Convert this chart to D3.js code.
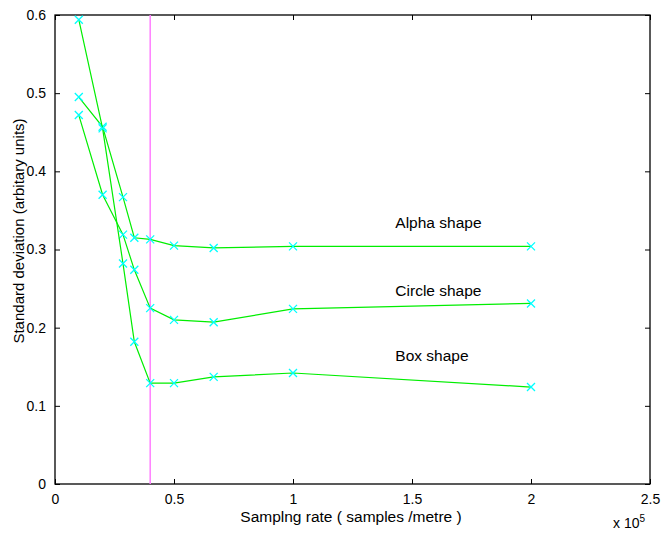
<!DOCTYPE html>
<html><head><meta charset="utf-8">
<script src="https://cdn.jsdelivr.net/npm/d3@7"></script>
<style>body{margin:0;background:#fff}svg{display:block}text{font-family:"Liberation Sans",Arial,sans-serif;fill:#000}</style>
</head><body>
<svg id="c" width="664" height="533"></svg>
<script>
const xVals = [0.1, 0.2, 0.2857, 0.3333, 0.4, 0.5, 0.6667, 1, 2];
const alpha = [0.495, 0.457, 0.367, 0.315, 0.313, 0.305, 0.302, 0.304, 0.304];
const circle = [0.472, 0.370, 0.319, 0.274, 0.225, 0.210, 0.207, 0.224, 0.231];
const box = [0.594, 0.455, 0.282, 0.182, 0.129, 0.129, 0.137, 0.142, 0.124];
const seriesNames = ["Alpha shape", "Circle shape", "Box shape"];
const labelPos = [[1.43, 0.327], [1.43, 0.241], [1.43, 0.157]];
const markerX = 0.4;
const xTicks = [0, 0.5, 1, 1.5, 2, 2.5];
const yTicks = [0, 0.1, 0.2, 0.3, 0.4, 0.5, 0.6];

const svg = d3.select("#c");
const L = 55, R = 650, T = 15, B = 484;
const x = d3.scaleLinear().domain([0, 2.5]).range([L, R]);
const y = d3.scaleLinear().domain([0, 0.6]).range([B, T]);

// axes box
svg.append("rect").attr("x", L).attr("y", T).attr("width", R - L).attr("height", B - T)
  .attr("fill", "none").attr("stroke", "#000").attr("stroke-width", 1.3);

const fmt = d => d === 0 ? "0" : String(d);
const tl = 5;
const gB = svg.append("g").attr("transform", `translate(0,${B})`)
  .call(d3.axisBottom(x).tickValues(xTicks).tickFormat(fmt).tickSizeInner(-tl).tickSizeOuter(0).tickPadding(10));
const gT = svg.append("g").attr("transform", `translate(0,${T})`)
  .call(d3.axisTop(x).tickValues(xTicks).tickFormat("").tickSizeInner(-tl).tickSizeOuter(0));
const gL = svg.append("g").attr("transform", `translate(${L},0)`)
  .call(d3.axisLeft(y).tickValues(yTicks).tickFormat(fmt).tickSizeInner(-tl).tickSizeOuter(0).tickPadding(9));
const gR = svg.append("g").attr("transform", `translate(${R},0)`)
  .call(d3.axisRight(y).tickValues(yTicks).tickFormat("").tickSizeInner(-tl).tickSizeOuter(0));
[gB, gT, gL, gR].forEach(g => {
  g.select(".domain").remove();
  g.selectAll("line").attr("stroke", "#000");
  g.selectAll("text").style("font-size", "14px").style("font-family", '"Liberation Sans",Arial,sans-serif').attr("fill", "#000");
});

// vertical marker line
svg.append("line").attr("x1", x(markerX)).attr("x2", x(markerX)).attr("y1", y(0.6)).attr("y2", y(0))
  .attr("stroke", "#ff7fff").attr("stroke-width", 1.5);

const line = d3.line().x(d => x(d[0])).y(d => y(d[1]));
[alpha, circle, box].forEach(vals => {
  const pts = xVals.map((xv, i) => [xv, vals[i]]);
  svg.append("path").attr("d", line(pts)).attr("fill", "none").attr("stroke", "#00ee00").attr("stroke-width", 1.2);
  const s = 4;
  svg.append("g").selectAll("path").data(pts).join("path")
    .attr("d", d => `M${x(d[0]) - s},${y(d[1]) - s}L${x(d[0]) + s},${y(d[1]) + s}M${x(d[0]) - s},${y(d[1]) + s}L${x(d[0]) + s},${y(d[1]) - s}`)
    .attr("stroke", "#00ffff").attr("stroke-width", 1.3).attr("fill", "none");
});

seriesNames.forEach((n, i) => {
  svg.append("text").attr("x", x(labelPos[i][0])).attr("y", y(labelPos[i][1])).text(n).style("font-size", "15.5px");
});

svg.append("text").attr("x", 351).attr("y", 522).attr("text-anchor", "middle")
  .style("font-size", "15.5px").text("Samplng rate ( samples /metre )");
svg.append("text").attr("transform", `translate(24,231) rotate(-90)`).attr("text-anchor", "middle")
  .style("font-size", "15px").text("Standard deviation (arbitary units)");
const ex = svg.append("text").attr("x", 613).attr("y", 528).style("font-size", "14px");
ex.append("tspan").text("x 10");
ex.append("tspan").attr("dy", -6).style("font-size", "10px").text("5");
</script>
</body></html>
